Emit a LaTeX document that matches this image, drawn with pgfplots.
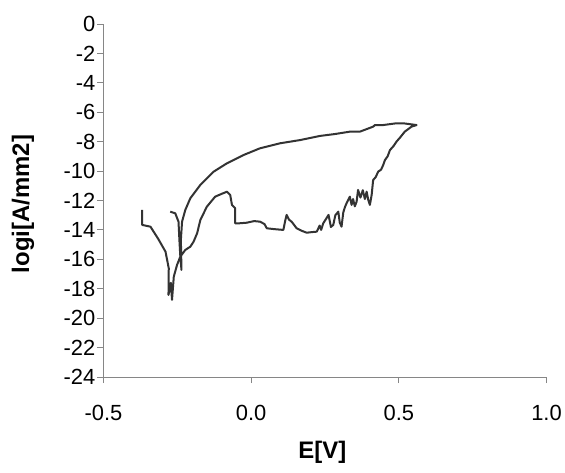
\documentclass[border=0pt]{standalone}
\usepackage{pgfplots}
\pgfplotsset{compat=1.18}
\usepackage{fontspec}
\setmainfont{Liberation Sans}
\definecolor{axgray}{HTML}{868686}
\definecolor{curve}{HTML}{333333}
\pgfplotstableread{
x y
-0.369 -12.64
-0.369 -13.66
-0.341 -13.78
-0.315 -14.60
-0.290 -15.48
-0.279 -16.61
-0.280 -18.42
-0.272 -17.60
-0.268 -18.76
-0.262 -17.18
-0.251 -16.38
-0.240 -15.82
-0.223 -15.36
-0.206 -15.14
-0.195 -14.80
-0.183 -14.23
-0.172 -13.32
-0.150 -12.42
-0.122 -11.74
-0.100 -11.55
-0.082 -11.40
-0.071 -11.62
-0.065 -12.30
-0.054 -12.53
-0.054 -13.55
-0.040 -13.55
-0.015 -13.51
0.010 -13.40
0.030 -13.44
0.045 -13.60
0.053 -13.89
0.080 -13.95
0.109 -14.00
0.115 -13.40
0.120 -12.98
0.128 -13.30
0.137 -13.44
0.154 -13.89
0.170 -14.05
0.188 -14.19
0.205 -14.15
0.222 -14.12
0.232 -13.70
0.237 -14.00
0.244 -13.55
0.252 -13.30
0.262 -12.98
0.270 -13.80
0.278 -13.66
0.285 -13.00
0.295 -12.76
0.300 -13.50
0.306 -13.78
0.312 -12.80
0.318 -12.42
0.325 -12.10
0.334 -11.74
0.340 -12.30
0.345 -11.90
0.351 -12.40
0.357 -12.08
0.362 -11.28
0.370 -11.80
0.378 -11.30
0.385 -11.90
0.391 -11.40
0.397 -12.00
0.402 -12.30
0.408 -11.62
0.413 -10.61
0.422 -10.40
0.430 -10.04
0.440 -9.90
0.447 -9.59
0.453 -9.25
0.462 -9.00
0.470 -8.57
0.482 -8.30
0.492 -8.00
0.505 -7.70
0.520 -7.32
0.543 -6.98
0.560 -6.87
0.515 -6.75
0.492 -6.75
0.447 -6.87
0.419 -6.87
0.413 -6.98
0.368 -7.32
0.334 -7.32
0.284 -7.48
0.233 -7.61
0.166 -7.89
0.098 -8.11
0.030 -8.45
-0.026 -8.91
-0.082 -9.47
-0.127 -10.04
-0.172 -10.94
-0.206 -11.85
-0.223 -12.64
-0.234 -13.44
-0.238 -14.68
-0.236 -16.72
-0.240 -15.77
-0.243 -14.68
-0.246 -13.44
-0.257 -12.87
-0.274 -12.76
}\curvedata
\begin{document}
\begin{tikzpicture}
\path[use as bounding box] (-103.5bp,-96bp) rectangle (461.5bp,377bp);
\begin{axis}[
  scale only axis,
  width=443bp, height=353bp,
  xmin=-0.5, xmax=1.0, ymin=-24, ymax=0,
  xtick={-0.5,0,0.5,1.0},
  ytick={-24,-22,...,0},
  axis x line*=bottom, axis y line*=left,
  axis line style={draw=axgray, line width=0.9bp, -},
  tick align=outside,
  major tick length=6bp,
  every tick/.style={draw=axgray, line width=0.9bp},
  tick label style={font=\fontsize{22}{26}\selectfont, text=black},
  /pgf/number format/assume math mode=true,
  xticklabel style={/pgf/number format/.cd, fixed, fixed zerofill, precision=1, /tikz/.cd, anchor=north, inner sep=0pt, yshift=-22bp},
  yticklabel style={anchor=east, inner sep=0pt, xshift=-2bp},
  xlabel={E[V]}, ylabel={logi[A/mm2]},
  label style={font=\bfseries\fontsize{24}{28}\selectfont},
  xlabel style={at={(axis description cs:0.494,-0.2125)}, anchor=center},
  ylabel style={at={(axis description cs:-0.1817,0.49)}, anchor=center},
  clip=false,
]
\addplot[curve, line width=2bp, line join=round] table[x=x,y=y] {\curvedata};
\end{axis}
\end{tikzpicture}
\end{document}
